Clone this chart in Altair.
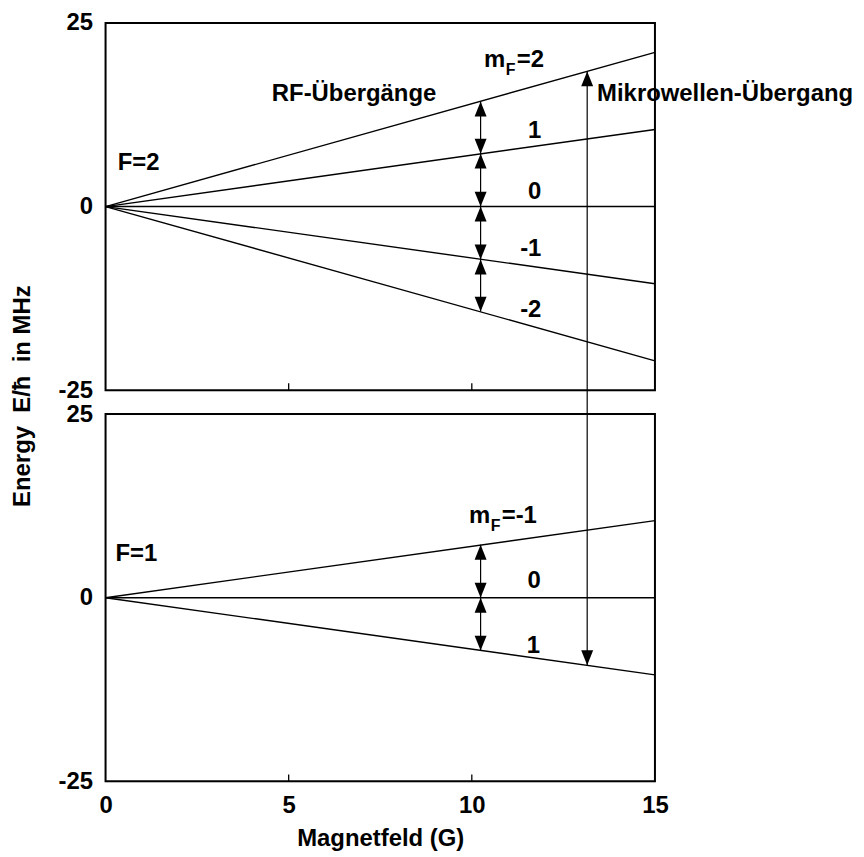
import altair as alt
import pandas as pd

FONT = "Liberation Sans"
FS = 24
FW = "bold"
W, H = 552, 369
GAP = 24

# axes
x_domain = [0, 15]
y_domain = [-25, 25]
x_ticks = [0, 5, 10, 15]
y_ticks = [-25, 0, 25]
inner_ticks = [5, 10]

# Zeeman levels: energy (MHz) at B = 0 and B = 15 G
top_m = [2, 1, 0, -1, -2]
top_end = [21.0, 10.5, 0.0, -10.5, -21.0]
bottom_m = [-1, 0, 1]
bottom_end = [10.5, 0.0, -10.5]
b_start, b_end = 0.0, 15.0

# RF transitions (double arrows) at B ~ 10.2 G
rf_x = 10.24
top_rf = [14.3, 7.2, 0.0, -7.2, -14.3]
bottom_rf = [7.2, 0.0, -7.2]

# microwave transition
mw_x = 13.15
mw_top = 18.4
mw_bottom = -9.2

# annotations (data coordinates)
top_left_text = ["F=2", "RF-Übergänge", "Mikrowellen-Übergang"]
top_left_x = [0.33, 4.54, 13.42]
top_left_y = [4.95, 14.43, 14.43]
top_right_text = ["1", "0", "-1", "-2"]
top_right_x = [11.9, 11.9, 11.9, 11.9]
top_right_y = [9.28, 1.02, -6.71, -15.1]
top_mf = (10.33, 19.04, "=2")

bot_left_text = ["F=1"]
bot_left_x = [0.27]
bot_left_y = [4.95]
bot_right_text = ["0", "1"]
bot_right_x = [11.88, 11.86]
bot_right_y = [1.29, -7.52]
bot_mf = (9.92, 10.23, "=-1")

UP = "M0,0L0.8,2L-0.8,2Z"
DOWN = "M0,0L0.8,-2L-0.8,-2Z"

xs = alt.Scale(domain=x_domain, nice=False, zero=False)
ys = alt.Scale(domain=y_domain, nice=False, zero=False)


def X(field, show):
    if show:
        ax = alt.Axis(values=x_ticks, labelFlush=False, ticks=False, domain=False,
                      grid=False, labelFontSize=FS, labelFontWeight=FW, labelPadding=12,
                      title="Magnetfeld (G)", titleFontSize=FS, titleFontWeight=FW,
                      titlePadding=9, labelColor="black", titleColor="black",
                      labelFont=FONT, titleFont=FONT, labelAngle=0,
                      labelExpr="'' + datum.value")
    else:
        ax = None
    return alt.X(field, type="quantitative", scale=xs, axis=ax)


def Y(field):
    ax = alt.Axis(values=y_ticks, ticks=False, domain=False, grid=False,
                  labelFontSize=FS, labelFontWeight=FW, labelPadding=13, title=None,
                  labelColor="black", labelFont=FONT, labelExpr="'' + datum.value")
    return alt.Y(field, type="quantitative", scale=ys, axis=ax)


def txt(align, size=FS, **kw):
    return dict(align=align, baseline="alphabetic", fontSize=size, fontWeight=FW,
                font=FONT, color="black", **kw)


def panel(ms, ends, rf, mw_y, mw_is_top, left_t, left_x, left_y,
          right_t, right_x, right_y, mf, show_x, with_title):
    rows = []
    for m, e in zip(ms, ends):
        rows.append({"m": str(m), "x": b_start, "y": 0.0})
        rows.append({"m": str(m), "x": b_end, "y": e})
    lev = pd.DataFrame(rows)
    lines = alt.Chart(lev).mark_line(color="black", strokeWidth=1.4).encode(
        x=X("x", show_x), y=Y("y"), detail="m:N")

    frame = alt.Chart(pd.DataFrame({"k": [0]})).mark_rect(
        filled=False, stroke="black", strokeWidth=2, fillOpacity=0).encode(
        x=alt.value(0), x2=alt.value(W), y=alt.value(0), y2=alt.value(H))

    arr = pd.DataFrame({"x": [rf_x] * (len(rf) - 1), "y": rf[:-1], "y2": rf[1:]})
    shafts = alt.Chart(arr).mark_rule(color="black", strokeWidth=1.2).encode(
        x=X("x", show_x), y=Y("y"), y2="y2:Q")
    heads_up = alt.Chart(arr).mark_point(shape=UP, filled=True, size=225, color="black",
                                         opacity=1, strokeWidth=0).encode(
        x=X("x", show_x), y=Y("y"))
    heads_dn = alt.Chart(arr).mark_point(shape=DOWN, filled=True, size=225, color="black",
                                         opacity=1, strokeWidth=0).encode(
        x=X("x", show_x), y=Y("y2"))

    mw = pd.DataFrame({"x": [mw_x], "y": [mw_y]})
    if mw_is_top:
        mw_shaft = alt.Chart(mw).mark_rule(color="black", strokeWidth=1.2).encode(
            x=X("x", show_x), y=Y("y"), y2=alt.value(H + GAP))
        mw_head = alt.Chart(mw).mark_point(shape=UP, filled=True, size=225, color="black",
                                           opacity=1, strokeWidth=0).encode(
            x=X("x", show_x), y=Y("y"))
    else:
        mw_shaft = alt.Chart(mw).mark_rule(color="black", strokeWidth=1.2).encode(
            x=X("x", show_x), y=Y("y"), y2=alt.value(0))
        mw_head = alt.Chart(mw).mark_point(shape=DOWN, filled=True, size=225, color="black",
                                           opacity=1, strokeWidth=0).encode(
            x=X("x", show_x), y=Y("y"))

    tk = pd.DataFrame({"x": inner_ticks})
    ticks = alt.Chart(tk).mark_rule(color="black", strokeWidth=1.3).encode(
        x=X("x", show_x), y=alt.value(H), y2=alt.value(H - 7))

    lt = pd.DataFrame({"t": left_t, "x": left_x, "y": left_y})
    ltext = alt.Chart(lt).mark_text(**txt("left")).encode(
        x=X("x", show_x), y=Y("y"), text="t:N")
    rt = pd.DataFrame({"t": right_t, "x": right_x, "y": right_y})
    rtext = alt.Chart(rt).mark_text(**txt("right")).encode(
        x=X("x", show_x), y=Y("y"), text="t:N")

    mfd = pd.DataFrame({"x": [mf[0]], "y": [mf[1]], "a": ["m"], "b": ["F"], "c": [mf[2]]})
    mf1 = alt.Chart(mfd).mark_text(**txt("left")).encode(
        x=X("x", show_x), y=Y("y"), text="a:N")
    mf2 = alt.Chart(mfd).mark_text(**txt("left", 16, dx=22, dy=8)).encode(
        x=X("x", show_x), y=Y("y"), text="b:N")
    mf3 = alt.Chart(mfd).mark_text(**txt("left", dx=33)).encode(
        x=X("x", show_x), y=Y("y"), text="c:N")

    layers = [lines, frame, shafts, heads_up, heads_dn, mw_shaft, mw_head, ticks,
              ltext, rtext, mf1, mf2, mf3]
    if with_title:
        ttl = alt.Chart(pd.DataFrame({"t": ["Energy\u00a0\u00a0E/\u0127\u00a0\u00a0in MHz"]})).mark_text(
            angle=270, align="center", baseline="middle", fontSize=FS, fontWeight=FW,
            font=FONT, color="black").encode(x=alt.value(-83), y=alt.value(375), text="t:N")
        layers.append(ttl)
    return alt.layer(*layers).properties(width=W, height=H)


top = panel(top_m, top_end, top_rf, mw_top, True, top_left_text, top_left_x, top_left_y,
            top_right_text, top_right_x, top_right_y, top_mf, False, True)
bottom = panel(bottom_m, bottom_end, bottom_rf, mw_bottom, False, bot_left_text, bot_left_x,
               bot_left_y, bot_right_text, bot_right_x, bot_right_y, bot_mf, True, False)

chart = alt.vconcat(top, bottom, spacing=GAP, bounds="flush").properties(
    padding={"left": 2, "top": 0, "right": 2, "bottom": 5}
).configure_view(strokeWidth=0, strokeOpacity=0).configure(font=FONT, background="white")

chart.save("out.html", embed_options={"renderer": "svg", "actions": False})
